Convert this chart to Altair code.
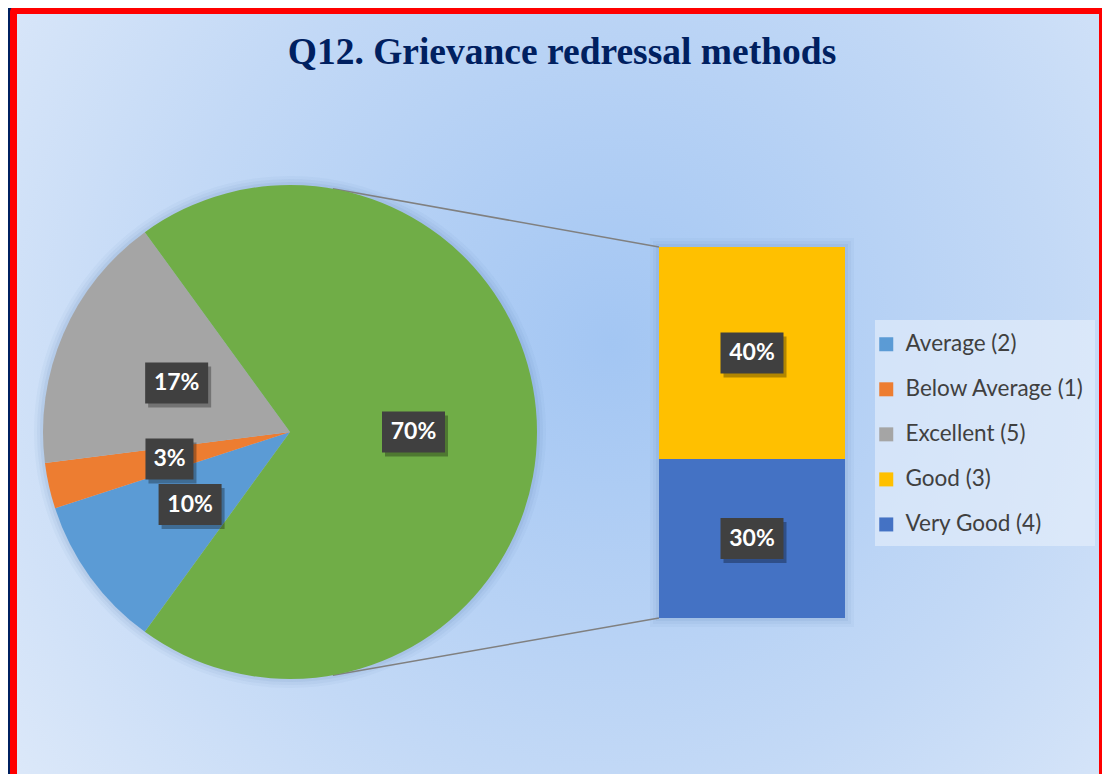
import math
import altair as alt
import pandas as pd

# ---------------- data ----------------
title_text = "Q12. Grievance redressal methods"
categories = ["Average (2)", "Below Average (1)", "Excellent (5)", "Good (3)", "Very Good (4)"]
shares = [10, 3, 17, 40, 30]
in_second_plot = [False, False, False, True, True]
colors = ["#5B9BD5", "#ED7D31", "#A5A5A5", "#FFC000", "#4472C4"]
other_label = "Other"
other_color = "#70AD47"

# ---------------- layout (chart pixel coordinates) ----------------
W, H = 1094, 766
CX, CY, R = 282, 424, 247
LABEL_R = 0.5 * R
BAR_X0, BAR_X1 = 651, 837
BAR_TOP, BAR_BOTTOM = 239, 610
CONNECT_ANGLE = math.radians(10)
LEG_BOX = (867, 312, 1087, 538)

# ---------------- tables ----------------
pie_rows = []
for c, v, b in zip(categories, shares, in_second_plot):
    if not b:
        pie_rows.append({"cat": c, "value": v, "order": len(pie_rows)})
other_total = sum(v for v, b in zip(shares, in_second_plot) if b)
pie_rows.append({"cat": other_label, "value": other_total, "order": len(pie_rows)})
pie_df = pd.DataFrame(pie_rows)
total = float(pie_df["value"].sum())

bar_items = [(c, v) for c, v, b in zip(categories, shares, in_second_plot) if b]
bar_df = pd.DataFrame({
    "cat": [c for c, _ in bar_items],
    "value": [v for _, v in bar_items],
    "order": list(range(len(bar_items)))[::-1],  # last item at the bottom
})

theta_start = math.pi / 2 + math.pi * other_total / total

color_scale = alt.Scale(domain=categories + [other_label], range=colors + [other_color])
legend = alt.Legend(
    values=categories, orient="none", legendX=867, legendY=325, title=None,
    symbolType="square", symbolSize=196, symbolStrokeWidth=0, symbolOpacity=1,
    labelFont="Lato", labelFontSize=22.5, labelColor="#404040", labelOffset=8, labelLimit=400,
    rowPadding=22.05, padding=0,
)
bar_scale = alt.Scale(domain=[0, other_total], range=[BAR_BOTTOM, BAR_TOP], nice=False, zero=True)

one = pd.DataFrame({"k": [0]})

# ---------------- frame & background ----------------
red_frame = alt.Chart(one).mark_rect(color="#FF0000", cornerRadius=6).encode(
    x=alt.value(2), x2=alt.value(W + 10), y=alt.value(-2), y2=alt.value(H + 10))
panel = alt.Chart(one).mark_rect(
    color=alt.RadialGradient(
        gradient="radial",
        stops=[alt.GradientStop(offset=0, color="#A3C6F3"),
               alt.GradientStop(offset=0.55, color="#C3D9F6"),
               alt.GradientStop(offset=1, color="#E2ECFA")],
        x1=0.55, y1=0.45, x2=0.55, y2=0.45, r1=0, r2=0.75)
).encode(x=alt.value(9), x2=alt.value(W - 3), y=alt.value(6), y2=alt.value(H + 10))

legend_box = alt.Chart(one).mark_rect(color="#E8F0FC", opacity=0.6).encode(
    x=alt.value(LEG_BOX[0]), x2=alt.value(LEG_BOX[2]),
    y=alt.value(LEG_BOX[1]), y2=alt.value(LEG_BOX[3]))

title = alt.Chart(pd.DataFrame({"t": [title_text]})).mark_text(
    font="Liberation Serif", fontWeight="bold", fontSize=37.5, color="#002060",
    align="center", baseline="alphabetic"
).encode(text="t:N", x=alt.value(554), y=alt.value(56))

# ---------------- soft shadows ----------------
glow_layers = []
for k, op in [(9, 0.04), (6, 0.05), (3, 0.07)]:
    glow_layers.append(alt.Chart(one).mark_arc(
        theta=0, theta2=2 * math.pi, outerRadius=R + k, color="#3A5F9A", opacity=op
    ).encode(x=alt.value(CX), y=alt.value(CY)))
    glow_layers.append(alt.Chart(one).mark_rect(color="#3A5F9A", opacity=op).encode(
        x=alt.value(BAR_X0 - k), x2=alt.value(BAR_X1 + k),
        y=alt.value(BAR_TOP - k), y2=alt.value(BAR_BOTTOM + k)))

# ---------------- pie ----------------
pie = alt.Chart(pie_df).mark_arc(outerRadius=R).encode(
    theta=alt.Theta("value:Q", stack=True,
                    scale=alt.Scale(domain=[0, total], range=[theta_start, theta_start + 2 * math.pi])),
    order=alt.Order("order:Q"),
    color=alt.Color("cat:N", scale=color_scale, legend=legend),
    x=alt.value(CX), y=alt.value(CY),
)

box_calc = dict(
    label="datum.value + '%'",
    bw="18 + 15*length(datum.label)",
    hh="41/datum.bw",
    shape="'M-1,' + (-datum.hh) + 'L1,' + (-datum.hh) + 'L1,' + datum.hh + 'L-1,' + datum.hh + 'Z'",
    area="datum.bw*datum.bw",
)

pie_lab = alt.Chart(pie_df).transform_joinaggregate(
    tot="sum(value)"
).transform_window(
    cum="sum(value)", sort=[alt.SortField("order")], frame=[None, 0]
).transform_calculate(
    ang=f"{theta_start} + 2*PI*(datum.cum - datum.value/2)/datum.tot",
    lx=f"{CX} + {LABEL_R}*sin(datum.ang)",
    ly=f"{CY} - {LABEL_R}*cos(datum.ang)",
).transform_calculate(**box_calc)

pie_pos = dict(x=alt.X("lx:Q", scale=None, axis=None), y=alt.Y("ly:Q", scale=None, axis=None))
pie_shadow = pie_lab.mark_point(filled=True, opacity=0.3, color="#000000", strokeWidth=0,
                                xOffset=3, yOffset=4).encode(
    shape=alt.Shape("shape:N", scale=None), size=alt.Size("area:Q", scale=None), **pie_pos)
pie_box = pie_lab.mark_point(filled=True, opacity=1, color="#404040", strokeWidth=0).encode(
    shape=alt.Shape("shape:N", scale=None), size=alt.Size("area:Q", scale=None), **pie_pos)
pie_text = pie_lab.mark_text(font="Lato", fontWeight="bold", fontSize=23, color="white",
                             baseline="middle", align="center").encode(text="label:N", **pie_pos)

# ---------------- bar of pie ----------------
bar_base = alt.Chart(bar_df).transform_stack(
    stack="value", groupby=[], as_=["y0", "y1"], sort=[alt.SortField("order")]
).transform_calculate(mid="(datum.y0 + datum.y1)/2").transform_calculate(**box_calc)

bar = bar_base.mark_rect().encode(
    x=alt.value(BAR_X0), x2=alt.value(BAR_X1),
    y=alt.Y("y0:Q", scale=bar_scale, axis=None), y2="y1:Q",
    color=alt.Color("cat:N", scale=color_scale, legend=legend),
)
bar_pos = dict(x=alt.value((BAR_X0 + BAR_X1) / 2), y=alt.Y("mid:Q", scale=bar_scale, axis=None))
bar_shadow = bar_base.mark_point(filled=True, opacity=0.3, color="#000000", strokeWidth=0,
                                 xOffset=3, yOffset=4).encode(
    shape=alt.Shape("shape:N", scale=None), size=alt.Size("area:Q", scale=None), **bar_pos)
bar_box = bar_base.mark_point(filled=True, opacity=1, color="#404040", strokeWidth=0).encode(
    shape=alt.Shape("shape:N", scale=None), size=alt.Size("area:Q", scale=None), **bar_pos)
bar_text = bar_base.mark_text(font="Lato", fontWeight="bold", fontSize=23, color="white",
                              baseline="middle", align="center").encode(text="label:N", **bar_pos)

# ---------------- connector lines ----------------
conn_df = pd.DataFrame({
    "px": [CX + R * math.sin(CONNECT_ANGLE), CX + R * math.sin(math.pi - CONNECT_ANGLE)],
    "py": [CY - R * math.cos(CONNECT_ANGLE), CY - R * math.cos(math.pi - CONNECT_ANGLE)],
    "bx": [BAR_X0, BAR_X0],
    "by": [BAR_TOP, BAR_BOTTOM],
})
connectors = alt.Chart(conn_df).mark_rule(color="#808080", strokeWidth=1.5).encode(
    x=alt.X("px:Q", scale=None, axis=None), x2="bx:Q",
    y=alt.Y("py:Q", scale=None, axis=None), y2="by:Q")

chart = alt.layer(
    red_frame, panel, legend_box, title, *glow_layers, connectors,
    pie, pie_shadow, pie_box, pie_text,
    bar, bar_shadow, bar_box, bar_text,
).resolve_scale(x="independent", y="independent").properties(
    width=W, height=H, padding=0,
    autosize=alt.AutoSizeParams(type="none"),
    background="#002060",
).configure_view(stroke=None)

chart.save("out.html", embed_options={"renderer": "svg", "actions": False})
